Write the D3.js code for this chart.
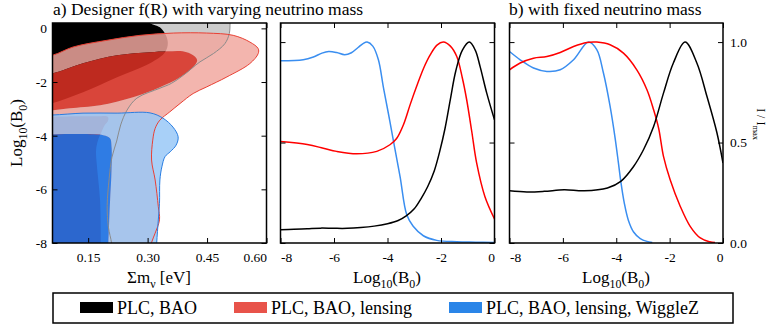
<!DOCTYPE html>
<html>
<head>
<meta charset="utf-8">
<script src="https://cdn.jsdelivr.net/npm/d3@7"></script>
<style>
  body { margin: 0; background: #fff; }
  svg { display: block; font-family: "Liberation Serif", "Times New Roman", serif; }
</style>
</head>
<body>
<svg id="chart" width="768" height="331"></svg>
<script>
// ---- panel a: 2D contours, points are [sum m_nu (eV), log10 B0] along each boundary
const plcBaoGrey95 = [[0.508,0.3],[0.508,0.2],[0.506,-0.2],[0.495,-0.57],[0.466,-0.94],[0.432,-1.25],[0.39,-1.75],[0.36,-2.05],[0.331,-2.23],[0.273,-2.6],[0.248,-3.05],[0.232,-3.6],[0.222,-4.2],[0.21,-4.8],[0.203,-5.6],[0.198,-6.6],[0.201,-7.4],[0.209,-8.0],[0.21,-8.3]];
const plcBaoBlack68 = [[0.306,0.3],[0.306,0.2],[0.331,0.037],[0.346,-0.26],[0.351,-0.558],[0.344,-0.892],[0.306,-1.301],[0.223,-1.822],[0.137,-2.379],[0.059,-2.788],[0.0,-3.0]];
const lensRed95 = [[0.0,-1.1],[0.06,-1.0],[0.112,-0.695],[0.197,-0.446],[0.281,-0.26],[0.365,-0.175],[0.449,-0.175],[0.516,-0.26],[0.558,-0.509],[0.579,-0.755],[0.579,-0.941],[0.558,-1.312],[0.5,-1.81],[0.449,-2.182],[0.415,-2.428],[0.382,-2.799],[0.356,-3.112],[0.331,-3.42],[0.319,-3.729],[0.313,-4.164],[0.31,-4.907],[0.319,-5.651],[0.327,-6.643],[0.33,-7.138],[0.319,-7.632],[0.31,-7.981],[0.305,-8.3]];
const lensRed68 = [[0.0,-1.75],[0.061,-1.673],[0.137,-1.301],[0.223,-1.004],[0.306,-0.892],[0.349,-0.855],[0.389,-0.855],[0.415,-1.004],[0.425,-1.19],[0.415,-1.45],[0.382,-1.822],[0.331,-2.193],[0.263,-2.565],[0.18,-2.862],[0.104,-2.974],[0.061,-3.048],[0.0,-3.1]];
const lensRed68Low = [[0.0,-3.3],[0.17,-3.28],[0.2,-3.3],[0.2,-3.45],[0.192,-3.6],[0.184,-3.85],[0.175,-4.16],[0.17,-4.54],[0.172,-5.09],[0.18,-6.39],[0.182,-8.0],[0.182,-8.3]];
const wigBlue95 = [[0.0,-3.23],[0.059,-3.23],[0.137,-3.16],[0.223,-3.16],[0.306,-3.15],[0.339,-3.35],[0.364,-3.68],[0.377,-4.04],[0.372,-4.35],[0.357,-4.6],[0.344,-4.78],[0.336,-5.16],[0.331,-5.65],[0.33,-6.52],[0.327,-7.14],[0.323,-7.98],[0.322,-8.3]];
const wigBlue68 = [[0.0,-3.98],[0.188,-3.98],[0.205,-4.1],[0.209,-4.41],[0.209,-5.28],[0.205,-6.51],[0.201,-7.98],[0.2,-8.3]];

// ---- panels b, c: [log10 B0, I/Imax]
const midBlack = [[-8,0.066],[-7.5,0.068],[-7,0.071],[-6.5,0.074],[-6,0.073],[-5.5,0.073],[-5,0.077],[-4.5,0.084],[-4,0.096],[-3.6,0.112],[-3.3,0.135],[-3,0.17],[-2.75,0.22],[-2.5,0.28],[-2.25,0.36],[-2.05,0.455],[-1.85,0.57],[-1.65,0.715],[-1.45,0.855],[-1.2,0.96],[-0.94,1.0],[-0.72,0.96],[-0.54,0.879],[-0.29,0.746],[0,0.613]];
const midRed = [[-8,0.505],[-7,0.49],[-6.4,0.472],[-5.9,0.456],[-5.15,0.444],[-4.4,0.456],[-3.91,0.489],[-3.66,0.52],[-3.4,0.59],[-3.15,0.69],[-2.91,0.78],[-2.65,0.87],[-2.41,0.935],[-2.15,0.985],[-1.91,1.0],[-1.65,0.98],[-1.41,0.928],[-1.2,0.82],[-1.04,0.713],[-0.85,0.555],[-0.67,0.4],[-0.36,0.232],[0,0.12]];
const midBlue = [[-8,0.907],[-7.15,0.912],[-6.77,0.926],[-6.45,0.945],[-6.2,0.953],[-5.9,0.948],[-5.6,0.937],[-5.35,0.947],[-5.1,0.973],[-4.9,0.994],[-4.76,1.0],[-4.55,0.98],[-4.34,0.912],[-4.16,0.78],[-3.97,0.647],[-3.78,0.51],[-3.53,0.33],[-3.28,0.14],[-3.04,0.083],[-2.66,0.036],[-2.16,0.013],[-1.41,0.006],[-0.7,0.004],[0,0.002]];
const rightBlack = [[-8,0.26],[-7.35,0.254],[-6.7,0.257],[-5.95,0.265],[-5.2,0.26],[-4.33,0.274],[-3.83,0.307],[-3.35,0.381],[-2.98,0.464],[-2.6,0.58],[-2.23,0.746],[-1.86,0.896],[-1.42,1.0],[-0.98,0.896],[-0.6,0.729],[-0.23,0.55],[0,0.398]];
const rightRed = [[-8,0.862],[-7.6,0.896],[-7.1,0.92],[-6.6,0.928],[-6.1,0.948],[-5.6,0.978],[-5.1,0.998],[-4.73,1.0],[-4.23,0.987],[-3.73,0.945],[-3.23,0.862],[-2.85,0.763],[-2.6,0.663],[-2.41,0.57],[-2.23,0.431],[-1.98,0.315],[-1.6,0.182],[-1.23,0.083],[-0.85,0.025],[-0.5,0.006],[-0.3,0.002]];
const rightBlue = [[-8,0.953],[-7.6,0.912],[-7.1,0.871],[-6.6,0.854],[-6.1,0.862],[-5.6,0.912],[-5.04,1.0],[-4.73,0.962],[-4.48,0.846],[-4.23,0.68],[-4.04,0.52],[-3.92,0.4],[-3.83,0.307],[-3.7,0.2],[-3.55,0.115],[-3.35,0.055],[-3.1,0.022],[-2.85,0.008],[-2.65,0.003]];

// ---- ticks and legend
const mnuTicks = [0.15, 0.30, 0.45, 0.60];
const logBTicksY = [0, -2, -4, -6, -8];
const logBTicksX = [-8, -6, -4, -2, 0];
const ratioTicks = [0, 0.5, 1.0];
const legendLabels = ["PLC, BAO", "PLC, BAO, lensing", "PLC, BAO, lensing, WiggleZ"];
const legendColors = ["#000000", "#e8534a", "#2a85e8"];

const svg = d3.select("#chart");
const plotTop = 23, plotBottom = 243;
const pA = [52.5, 266.5], pB = [280.5, 494.5], pC = [509.5, 723];

let xM = d3.scaleLinear().domain([0.06, 0.6]).range(pA);
let yLog = d3.scaleLinear().domain([-8, 0.2]).range([plotBottom, plotTop]);
let xB = d3.scaleLinear().domain([-8, 0]).range(pB);
let xC = d3.scaleLinear().domain([-8, 0]).range(pC);
let yI = d3.scaleLinear().domain([0, 1.095]).range([plotBottom, plotTop]);

// clip for each panel
let defs = svg.append("defs");
[["clipA", pA], ["clipB", pB], ["clipC", pC]].forEach(function(c){
  defs.append("clipPath").attr("id", c[0])
    .append("rect").attr("x", c[1][0]).attr("y", plotTop)
    .attr("width", c[1][1] - c[1][0]).attr("height", plotBottom - plotTop);
});

// ---- panel a contours
let cLine = d3.line()
  .x(function(d){ return xM(d[0]); })
  .y(function(d){ return yLog(d[1]); })
  .curve(d3.curveCatmullRom.alpha(0.5));

function closed(b, corners){
  return cLine(b) + corners.map(function(c){ return "L" + xM(c[0]) + "," + yLog(c[1]); }).join("") + "Z";
}

let gA = svg.append("g").attr("clip-path", "url(#clipA)");

gA.append("path").attr("d", closed(plcBaoGrey95, [[0,-8.3],[0,0.3]])).attr("fill", "#cccccc");
gA.append("path").attr("d", closed(plcBaoBlack68, [[0,0.3]])).attr("fill", "#000");

// 95% region is drawn as a ring so the 68% colour sits straight on what is underneath
gA.append("path")
  .attr("d", closed(lensRed95, [[0,-8.3]]) + closed(lensRed68, []) + closed(lensRed68Low, [[0,-8.3]]))
  .attr("fill", "rgb(241,167,158)").attr("fill-opacity", 0.84).attr("fill-rule", "evenodd");
gA.append("path")
  .attr("d", closed(lensRed68, []) + closed(lensRed68Low, [[0,-8.3]]))
  .attr("fill", "rgb(218,48,36)").attr("fill-opacity", 0.87);

gA.append("path")
  .attr("d", closed(wigBlue95, [[0,-8.3]]) + closed(wigBlue68, [[0,-8.3]]))
  .attr("fill", "rgb(153,200,247)").attr("fill-opacity", 0.85).attr("fill-rule", "evenodd");
gA.append("path")
  .attr("d", closed(wigBlue68, [[0,-8.3]]))
  .attr("fill", "rgb(0,111,244)").attr("fill-opacity", 0.8);

// outlines on top
gA.append("path").attr("d", cLine(plcBaoGrey95)).attr("fill", "none").attr("stroke", "#8a8a8a").attr("stroke-width", 1);
gA.append("path").attr("d", cLine(lensRed95)).attr("fill", "none").attr("stroke", "rgb(232,64,52)").attr("stroke-width", 1);
gA.append("path").attr("d", cLine(wigBlue95)).attr("fill", "none").attr("stroke", "rgb(40,125,225)").attr("stroke-width", 1);

// ---- panels b, c curves
function drawCurves(xs, clip, series){
  let g = svg.append("g").attr("clip-path", "url(#" + clip + ")");
  let ln = d3.line()
    .x(function(d){ return xs(d[0]); })
    .y(function(d){ return yI(d[1]); })
    .curve(d3.curveCatmullRom.alpha(0.5));
  series.forEach(function(s){
    g.append("path").attr("d", ln(s[0]))
      .attr("fill", "none").attr("stroke", s[1]).attr("stroke-width", 1.5);
  });
}
drawCurves(xB, "clipB", [[midBlue, "#3a8ef0"], [midRed, "#ff0000"], [midBlack, "#000"]]);
drawCurves(xC, "clipC", [[rightBlue, "#3a8ef0"], [rightRed, "#ff0000"], [rightBlack, "#000"]]);

// ---- axes and frames
function axes(x, y, px, o){
  let gb = svg.append("g").attr("transform", "translate(0," + plotBottom + ")")
    .call(d3.axisBottom(x).tickValues(o.xt).tickSize(-5).tickPadding(9).tickFormat(o.xf));
  gb.selectAll(".tick text").attr("text-anchor", function(d, i, n){
    if(i === 0 && o.startFirst) return "start";
    if(i === n.length - 1) return "end";
    return "middle";
  });
  svg.append("g").attr("transform", "translate(0," + plotTop + ")")
    .call(d3.axisTop(x).tickValues(o.xt).tickSize(-5).tickFormat(""));
  svg.append("g").attr("transform", "translate(" + px[0] + ",0)")
    .call(d3.axisLeft(y).tickValues(o.yt).tickSize(-5).tickPadding(5.5).tickFormat(o.yl ? o.yf : ""));
  svg.append("g").attr("transform", "translate(" + px[1] + ",0)")
    .call(d3.axisRight(y).tickValues(o.yt).tickSize(-5).tickPadding(7).tickFormat(o.yr ? o.yf : ""));
  svg.append("rect").attr("x", px[0]).attr("y", plotTop)
    .attr("width", px[1] - px[0]).attr("height", plotBottom - plotTop)
    .attr("fill", "none").attr("stroke", "#000").attr("stroke-width", 1.5);
}
let hy = function(d){ return String(d); };
axes(xM, yLog, pA, {xt: mnuTicks, xf: d3.format(".2f"), startFirst: false, yt: logBTicksY, yf: hy, yl: true, yr: false});
axes(xB, yI, pB, {xt: logBTicksX, xf: hy, startFirst: true, yt: ratioTicks, yf: d3.format(".1f"), yl: false, yr: false});
axes(xC, yI, pC, {xt: logBTicksX, xf: hy, startFirst: true, yt: ratioTicks, yf: d3.format(".1f"), yl: false, yr: true});

svg.selectAll(".domain").remove();
svg.selectAll(".tick line").attr("stroke", "#000").attr("stroke-width", 1);
// empty tick labels are dropped
svg.selectAll(".tick text").filter(function(){ return this.textContent === ""; }).remove();
svg.selectAll(".tick text")
  .attr("font-family", "'Liberation Serif', 'Times New Roman', serif")
  .attr("font-size", "13.5px").attr("fill", "#000");

// ---- titles and axis labels
svg.append("text").attr("x", 53).attr("y", 15).attr("font-size", "17.5px")
  .text("a) Designer f(R) with varying neutrino mass");
svg.append("text").attr("x", 509).attr("y", 15).attr("font-size", "17.5px")
  .text("b) with fixed neutrino mass");

function subLabel(x, y, parts, rot, anchor, size){
  let t = svg.append("text")
    .attr("transform", "translate(" + x + "," + y + ") rotate(" + rot + ")")
    .attr("text-anchor", anchor).attr("font-size", size + "px");
  let shift = 0.3 * size;
  let down = false;
  parts.forEach(function(p){
    let ts = t.append("tspan").text(p[0]);
    if(p[1]) {
      ts.attr("dy", shift).attr("font-size", (size * 0.7) + "px");
      down = true;
    } else if(down) {
      ts.attr("dy", -shift);
      down = false;
    }
  });
}
subLabel(159, 283, [["\u03a3m", false], ["\u03bd", true], [" [eV]", false]], 0, "middle", 17);
subLabel(387, 283, [["Log", false], ["10", true], ["(B", false], ["0", true], [")", false]], 0, "middle", 17);
subLabel(616, 283, [["Log", false], ["10", true], ["(B", false], ["0", true], [")", false]], 0, "middle", 17);
subLabel(22, 133, [["Log", false], ["10", true], ["(B", false], ["0", true], [")", false]], -90, "middle", 17);
subLabel(757, 124, [["I / I", false], ["max", true]], 90, "middle", 12);

// ---- legend
let lg = svg.append("g");
lg.append("rect").attr("x", 53).attr("y", 293).attr("width", 680).attr("height", 30)
  .attr("fill", "none").attr("stroke", "#000").attr("stroke-width", 1.5);
let legendX = [80, 234, 449];
legendLabels.forEach(function(l, i){
  lg.append("rect").attr("x", legendX[i]).attr("y", 302).attr("width", 33).attr("height", 11)
    .attr("fill", legendColors[i]);
  lg.append("text").attr("x", legendX[i] + 37).attr("y", 314).attr("font-size", "18px").text(l);
});
</script>
</body>
</html>
